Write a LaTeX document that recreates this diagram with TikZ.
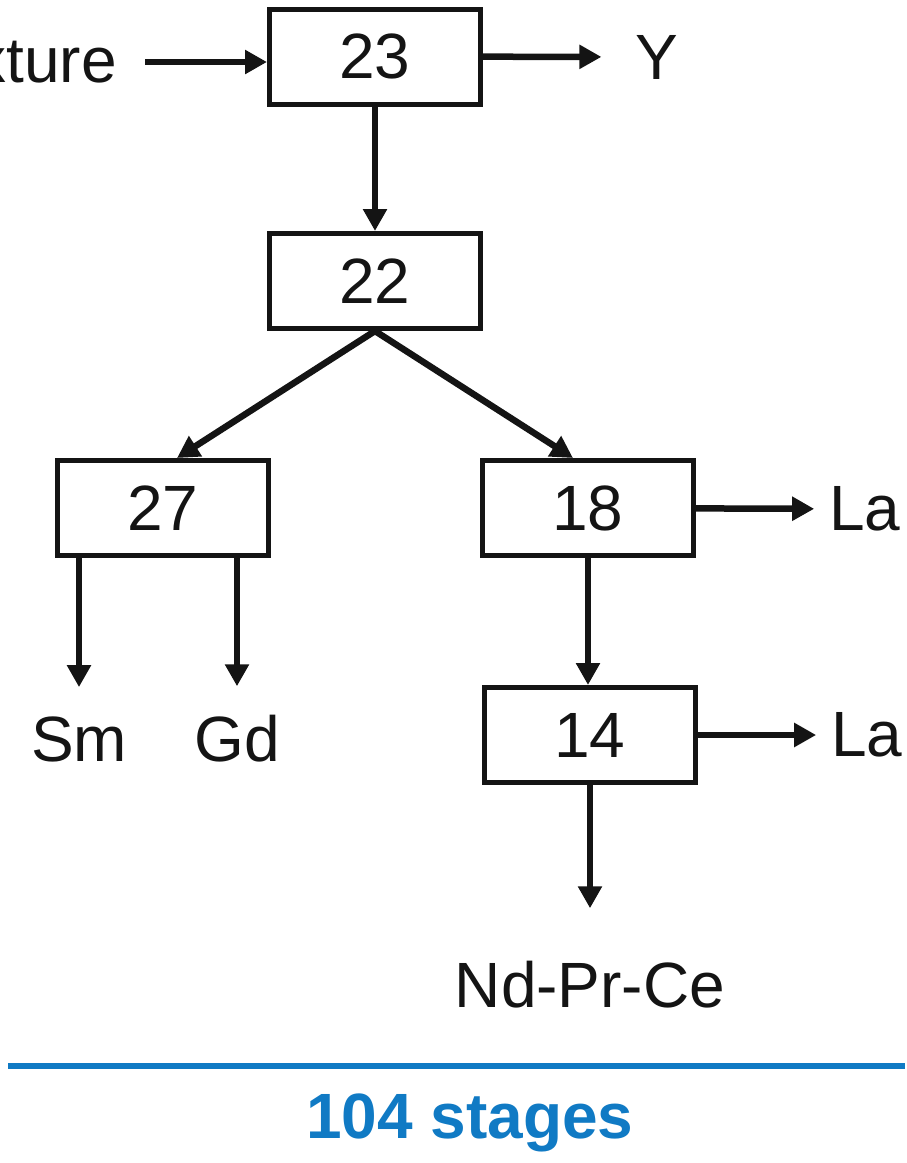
\documentclass[tikz,border=0pt]{standalone}
\usepackage{fontspec}
\setmainfont{Liberation Sans}
\usetikzlibrary{arrows.meta,positioning}

\definecolor{stageblue}{RGB}{16,122,196}

\begin{document}
\begin{tikzpicture}[x=1pt,y=-1pt,->,>={Triangle[length=22pt,width=23pt]},
  line width=6.5pt,color={black!92},
  every node/.style={font=\fontsize{64}{70}\selectfont},
  main node/.style={rectangle,draw,line width=5pt,minimum width=211pt,minimum height=95pt,inner sep=0pt},
  out node/.style={inner xsep=12pt,inner ysep=26pt}]

  \useasboundingbox (0,0) rectangle (907,1163);
  \clip (0,0) rectangle (907,1163);

  \node[main node] (23) at (375,56.5) {23};
  \node[main node] (22) at (375,281) {22};
  \node[main node] (27) at (163,508) {27};
  \node[main node] (18) at (588,508) {18};
  \node[main node] (14) at (590,735) {14};

  \node[out node,anchor=east,inner xsep=25pt] (feed) at (145,62) {xture};
  \node[out node,inner xsep=31pt] (Y) at (657,57) {Y};
  \node[out node] (Sm) at (79,739) {Sm};
  \node[out node] (Gd) at (237,739) {Gd};
  \node[out node] (La1) at (865,509) {La};
  \node[out node] (La2) at (867,735) {La};
  \node[out node,inner ysep=50pt] (NdPrCe) at (590,985) {Nd-Pr-Ce};

  \path
    (feed) edge (feed -| 23.west)
    (23) edge (Y)
    (23) edge (22)
    (22.south) edge ([xshift=14pt]27.north)
    (22.south) edge ([xshift=-15pt]18.north)
    (Sm.north |- 27.south) edge (Sm)
    (Gd.north |- 27.south) edge (Gd)
    (18) edge (La1)
    (18) edge (18 |- 14.north)
    (14) edge (La2)
    (14) edge (NdPrCe);

  % stage count
  \coordinate (rule l) at (8,1066);
  \coordinate (rule r) at (905,1066);
  \draw[-,stageblue,line width=6pt] (rule l) -- (rule r);
  \node[text=stageblue,font=\fontsize{64}{70}\selectfont\bfseries] (stages) at (470,1123) {104 stages};

\end{tikzpicture}
\end{document}
